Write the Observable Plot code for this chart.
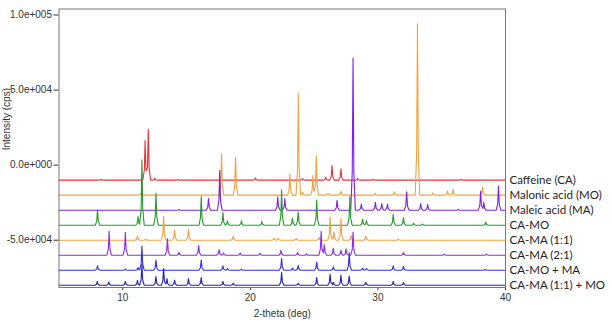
<!DOCTYPE html>
<html>
<head>
<meta charset="utf-8">
<script src="https://cdn.jsdelivr.net/npm/d3@7"></script>
<script src="https://cdn.jsdelivr.net/npm/@observablehq/plot@0.6"></script>
<style>
  html, body { margin: 0; padding: 0; background: white; }
</style>
</head>
<body>
<div id="chart"></div>
<script>
// ---- data ----
const seriesNames = ["Caffeine (CA)", "Malonic acid (MO)", "Maleic acid (MA)", "CA-MO",
  "CA-MA (1:1)", "CA-MA (2:1)", "CA-MO + MA", "CA-MA (1:1) + MO"];
const seriesOffsets = [-10000, -20000, -30000, -40000, -50000, -60000, -70000, -80000];
const seriesColors = ["#e8343c", "#f5a03c", "#7f22e0", "#249b2c", "#f5a03c", "#8a2ee0", "#2f2fe6", "#2222b4"];

// peaks: [2-theta (deg), height above the trace's own baseline (cps)]
const caffeinePeaks = [[8.3,700],[11.75,26400],[12.0,34100],[12.5,1300],[14.3,500],[20.4,1500],
  [24.1,1000],[25.9,2000],[26.4,9800],[27.1,7600],[28.4,1300],[29.6,700],[36.5,600]];
const malonicPeaks = [[11.4,1000],[17.74,27500],[18.84,25200],[23.1,14200],[23.76,68000],[24.1,2000],
  [24.9,13000],[25.17,26400],[26.1,1300],[27.1,2700],[29.8,1300],[31.3,2300],[33.1,114200],
  [34.3,1500],[35.45,2900],[35.9,3800],[38.2,5300]];
const maleicPeaks = [[14.4,500],[16.72,7800],[17.6,26600],[22.15,8900],[22.7,7800],[26.8,6600],
  [28.05,101400],[28.7,4000],[29.8,5300],[30.3,4400],[30.75,4000],[32.25,12300],[33.35,4400],
  [33.9,3800],[36.3,600],[38.05,12600],[38.3,5300],[39.45,16100]];
const caMoPeaks = [[8.02,10200],[11.2,5700],[11.5,43500],[12.6,21300],[16.15,19000],[17.85,8400],
  [18.2,2900],[19.3,2900],[20.9,2400],[22.45,23500],[23.3,4700],[23.75,9000],[25.2,16800],
  [27.8,19000],[28.8,4000],[29.1,3000],[31.2,7300],[32.0,5000],[32.8,1300],[33.5,800],[38.45,2000]];
const caMa11Peaks = [[11.15,2800],[11.8,800],[13.2,16000],[14.06,6600],[15.15,7100],[18.65,2700],
  [21.85,1300],[22.2,1300],[23.6,1300],[25.4,2000],[26.25,15500],[26.55,5500],[27.1,14400],
  [27.9,3300],[29.05,2700],[31.6,700]];
const caMa21Peaks = [[8.93,16000],[10.2,15300],[13.5,10900],[14.4,2000],[15.95,6400],[17.55,3800],
  [17.9,1500],[19.2,1500],[20.75,1300],[22.4,3300],[23.7,1800],[24.4,1000],[25.55,16000],
  [25.8,7000],[26.5,4700],[27.1,3300],[27.5,4300],[28.05,15500],[32.0,1800],[35.2,800],[38.5,800]];
const caMoMaPeaks = [[8.02,2900],[10.2,700],[11.2,1800],[11.5,16100],[12.6,6800],[16.15,6800],
  [17.85,2900],[18.2,1200],[19.3,700],[22.45,7800],[23.3,1500],[23.75,3300],[25.2,5500],
  [26.5,2200],[27.75,11700],[28.8,1500],[29.1,1200],[31.2,2900],[32.0,2500],[38.4,600]];
const caMa11MoPeaks = [[8.0,2500],[8.9,2200],[10.2,2500],[11.15,3300],[11.5,13900],[12.6,5800],
  [13.2,11100],[13.46,4400],[14.06,3500],[15.15,4400],[16.15,5100],[17.85,2500],[18.65,1300],
  [22.45,8400],[23.75,1300],[25.2,5100],[26.25,7300],[26.5,2000],[27.1,6600],[27.75,6200],
  [29.05,2000],[31.2,2500],[32.0,1800]];
const peakSets = [caffeinePeaks, malonicPeaks, maleicPeaks, caMoPeaks, caMa11Peaks, caMa21Peaks,
  caMoMaPeaks, caMa11MoPeaks];

const xDomain = [5, 40];
const yDomain = [-81500, 104000];
const xTicks = [10, 20, 30, 40];
const yTicks = [-50000, 0, 50000, 100000];

// ---- build the line table: each peak drawn as a sharp cusp with short tails ----
const hw = 0.18;
function kernel(d) {
  const a = Math.abs(d);
  if (a >= hw) return 0;
  if (a <= 0.35 * hw) return 1 - 0.75 * a / (0.35 * hw);
  return 0.25 * (hw - a) / (0.65 * hw);
}
const rows = [];
seriesNames.forEach((name, i) => {
  const peaks = peakSets[i];
  const xs = new Set([xDomain[0], xDomain[1]]);
  for (const [p] of peaks) for (const f of [-1, -0.35, 0, 0.35, 1]) xs.add(+(p + f * hw).toFixed(4));
  [...xs].sort((a, b) => a - b).forEach(x => {
    let y = seriesOffsets[i];
    for (const [p, h] of peaks) y += h * kernel(x - p);
    rows.push({series: name, x, y});
  });
});

function sci(d) {
  const [m, e] = d.toExponential(1).split("e");
  return m + "e" + e[0] + String(Math.abs(+e)).padStart(3, "0");
}

const labels = seriesNames.map((name, i) => ({name, y: seriesOffsets[i]}));

const chart = Plot.plot({
  width: 612,
  height: 323,
  marginLeft: 58.5,
  marginRight: 107,
  marginTop: 8.5,
  marginBottom: 36,
  style: {fontFamily: "'Liberation Sans', Arial, sans-serif", fontSize: "10px", color: "#333", background: "white"},
  x: {domain: xDomain, ticks: xTicks, label: null, tickSize: 3, tickPadding: 3},
  y: {domain: yDomain, ticks: yTicks, tickFormat: sci, label: null, tickSize: 5, tickPadding: 2},
  color: {domain: seriesNames, range: seriesColors},
  marks: [
    Plot.line(rows, {x: "x", y: "y", z: "series", stroke: "series", strokeWidth: 1.1}),
    Plot.frame({stroke: "#777"}),
    Plot.text(labels, {x: xDomain[1], y: "y", text: "name", dx: 4, textAnchor: "start",
      fontSize: 11.5, fontFamily: "Lato, 'Open Sans', sans-serif", fill: "#222"}),
    Plot.text(["2-theta (deg)"], {frameAnchor: "bottom", dy: 29, fontSize: 10, fill: "#333"}),
    Plot.text(["Intensity (cps)"], {frameAnchor: "left", dx: -49.5, dy: 2, rotate: -90,
      lineAnchor: "bottom", fontSize: 10, fill: "#333"})
  ]
});
document.getElementById("chart").appendChild(chart);
</script>
</body>
</html>
